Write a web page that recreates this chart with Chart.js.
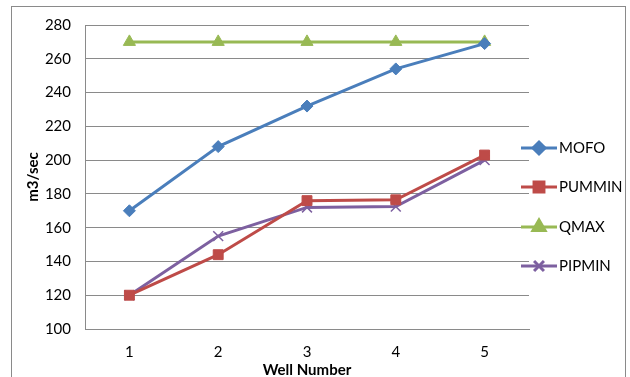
<!DOCTYPE html>
<html>
<head>
<meta charset="utf-8">
<script src="https://cdn.jsdelivr.net/npm/chart.js@4.4.1/dist/chart.umd.min.js"></script>
<style>
  html, body { margin: 0; padding: 0; background: #fff; }
  #wrap { width: 630px; height: 377px; }
</style>
</head>
<body>
<div id="wrap"><canvas id="c" width="630" height="377"></canvas></div>
<script>
// Well numbers along the x axis
const wells = ['1', '2', '3', '4', '5'];

// Flow rates per well (m3/sec)
const mofo   = [170, 208, 232, 254, 269];
const pummin = [120, 144, 176, 176.5, 203];
const qmax   = [270, 270, 270, 270, 270];
const pipmin = [120, 155, 172, 172.5, 200];

// Value axis range
const yMin = 100, yMax = 280, yStep = 20;

const FONT = 'Lato, "Open Sans", "Liberation Sans", sans-serif';

const series = [
  { label: 'MOFO',   data: mofo,   color: '#4a7ebb', pointStyle: 'rectRot',  radius: 6 },
  { label: 'PUMMIN', data: pummin, color: '#be4b48', pointStyle: 'rect',     radius: 7 },
  { label: 'QMAX',   data: qmax,   color: '#98b954', pointStyle: 'triangle', radius: 7 },
  { label: 'PIPMIN', data: pipmin, color: '#7d60a0', pointStyle: 'crossRot', radius: 7 }
];

// Legend on the right: line segment with the series marker in the middle
const sideLegend = {
  id: 'sideLegend',
  afterDraw(chart) {
    const ctx = chart.ctx;
    const rows = [148, 187, 227, 266];
    chart.data.datasets.forEach((ds, i) => {
      const y = rows[i];
      ctx.save();
      ctx.strokeStyle = ds.borderColor;
      ctx.lineWidth = 3;
      ctx.beginPath();
      ctx.moveTo(521, y);
      ctx.lineTo(557, y);
      ctx.stroke();
      ctx.fillStyle = ds.pointBackgroundColor;
      ctx.strokeStyle = ds.pointBorderColor;
      Chart.helpers.drawPoint(ctx, {
        pointStyle: ds.pointStyle,
        radius: ds.pointRadius,
        rotation: 0,
        borderWidth: ds.pointBorderWidth
      }, 539, y);
      ctx.fillStyle = '#000';
      ctx.font = '15px ' + FONT;
      ctx.textBaseline = 'middle';
      ctx.textAlign = 'left';
      ctx.fillText(ds.label, 559, y);
      ctx.restore();
    });
  }
};

// Thin frame around the whole chart
const frame = {
  id: 'frame',
  beforeDraw(chart) {
    const ctx = chart.ctx;
    ctx.save();
    ctx.strokeStyle = '#8a8a8a';
    ctx.lineWidth = 1;
    ctx.strokeRect(11.5, 6.5, 614, 390);
    ctx.restore();
  }
};

new Chart(document.getElementById('c'), {
  type: 'line',
  data: {
    labels: wells,
    datasets: series.map(s => ({
      label: s.label,
      data: s.data,
      borderColor: s.color,
      backgroundColor: s.color,
      pointBackgroundColor: s.color,
      pointBorderColor: s.color,
      pointBorderWidth: s.pointStyle === 'crossRot' ? 1.5 : 1,
      borderWidth: 3,
      pointStyle: s.pointStyle,
      pointRadius: s.radius,
      pointHoverRadius: s.radius,
      tension: 0,
      fill: false
    }))
  },
  options: {
    responsive: false,
    animation: false,
    devicePixelRatio: 1,
    layout: { padding: { left: 0, top: 25, right: 101, bottom: 0 } },
    plugins: {
      legend: { display: false },
      tooltip: { enabled: false }
    },
    scales: {
      x: {
        offset: true,
        grid: { display: false, drawTicks: false },
        border: { color: '#8a8a8a', width: 1 },
        ticks: { color: '#000', font: { family: FONT, size: 15 }, padding: 14 },
        title: {
          display: true,
          text: 'Well Number',
          color: '#000',
          font: { family: FONT, size: 15, weight: 'bold' },
          padding: { top: 0, bottom: -2 }
        },
        afterFit(scale) { scale.height = 48; }
      },
      y: {
        min: yMin,
        max: yMax,
        ticks: { stepSize: yStep, color: '#000', font: { family: FONT, size: 15 }, padding: 14 },
        grid: { color: '#8a8a8a', lineWidth: 1, drawTicks: false },
        border: { color: '#8a8a8a', width: 1 },
        title: {
          display: true,
          text: 'm3/sec',
          color: '#000',
          font: { family: FONT, size: 15, weight: 'bold' },
          padding: { top: 24, bottom: 0 }
        },
        afterFit(scale) { scale.width = 85; }
      }
    }
  },
  plugins: [frame, sideLegend]
});
</script>
</body>
</html>
